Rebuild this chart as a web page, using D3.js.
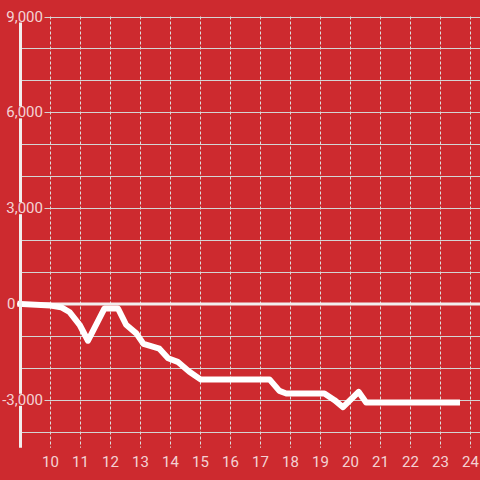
<!DOCTYPE html>
<html><head><meta charset="utf-8">
<script src="https://cdn.jsdelivr.net/npm/d3@7"></script>
<style>html,body{margin:0;padding:0;background:#cd2a2f;}svg{display:block;}</style>
</head><body>
<svg id="chart" width="480" height="480"></svg>
<script>
// data
const xs = [9, 10.0, 10.35, 10.63, 10.97, 11.25, 11.8, 12.25, 12.52, 12.86, 13.1, 13.63, 13.92, 14.24, 14.63, 15.0, 17.3, 17.63, 17.86, 19.13, 19.47, 19.75, 20.27, 20.52, 23.55];
const ys = [0, -50, -100, -250, -650, -1150, -140, -140, -650, -920, -1250, -1400, -1700, -1810, -2120, -2360, -2360, -2720, -2800, -2800, -3010, -3230, -2750, -3080, -3080];
const xTicks = [10, 11, 12, 13, 14, 15, 16, 17, 18, 19, 20, 21, 22, 23, 24];
const yGrid = [-4000, -3000, -2000, -1000, 0, 1000, 2000, 3000, 4000, 5000, 6000, 7000, 8000, 9000];
const yLabels = [-3000, 0, 3000, 6000, 9000];

const W = 480, H = 480, bg = "#cd2a2f";
const svg = d3.select("#chart");
svg.append("rect").attr("width", W).attr("height", H).attr("fill", bg);

const x = d3.scaleLinear().domain([9, 24.3167]).range([20.5, 480]);
const y = d3.scaleLinear().domain([-4500, 9000]).range([447.75, 16.5]);
const fmt = d3.format(",");
const font = "Roboto, 'Liberation Sans', sans-serif";
const labelColor = "rgba(255,255,255,0.8)";

// horizontal grid
svg.append("g").selectAll("line").data(yGrid.filter(d => d !== 0)).join("line")
  .attr("x1", 21).attr("x2", W)
  .attr("y1", d => Math.round(y(d)) + 0.5).attr("y2", d => Math.round(y(d)) + 0.5)
  .attr("stroke", "#d4d4d4").attr("stroke-width", 1);

// vertical dotted grid
svg.append("g").selectAll("line").data(xTicks).join("line")
  .attr("x1", d => Math.round(x(d)) + 0.5).attr("x2", d => Math.round(x(d)) + 0.5)
  .attr("y1", y(9000)).attr("y2", y(-4500))
  .attr("stroke", "#dcdcdc").attr("stroke-width", 1).attr("stroke-dasharray", "3,2");

// zero line
svg.append("line").attr("x1", 17).attr("x2", W).attr("y1", y(0)).attr("y2", y(0))
  .attr("stroke", "#f2eeee").attr("stroke-width", 3);

// data line
const line = d3.line().x((d, i) => x(xs[i])).y((d, i) => y(ys[i]));
svg.append("path").datum(xs).attr("d", line)
  .attr("fill", "none").attr("stroke", "#ffffff").attr("stroke-width", 6)
  .attr("stroke-linecap", "square").attr("stroke-linejoin", "round");

// y axis line
svg.append("line").attr("x1", 20.5).attr("x2", 20.5).attr("y1", y(9000)).attr("y2", y(-4500))
  .attr("stroke", "#f2eeee").attr("stroke-width", 3);

// y labels with background boxes
const yl = svg.append("g");
yLabels.forEach(v => {
  const g = yl.append("g");
  const ax = v === 0 ? 15.5 : 43;
  const t = g.append("text").attr("x", ax).attr("y", y(v)).attr("text-anchor", "end")
    .attr("dominant-baseline", "central").attr("font-family", font).attr("font-size", 15)
    .attr("fill", labelColor).text(fmt(v).replace("−", "-"));
  const b = t.node().getBBox();
  g.insert("rect", "text").attr("x", b.x - 1.5).attr("y", y(v) - 6).attr("width", b.width + 3).attr("height", 12)
    .attr("fill", bg);
});

// x labels
svg.append("g").selectAll("text").data(xTicks).join("text")
  .attr("x", d => x(d)).attr("y", 466.5).attr("text-anchor", "middle")
  .attr("font-family", font).attr("font-size", 15)
  .attr("fill", labelColor).text(d => d);
</script>
</body></html>
